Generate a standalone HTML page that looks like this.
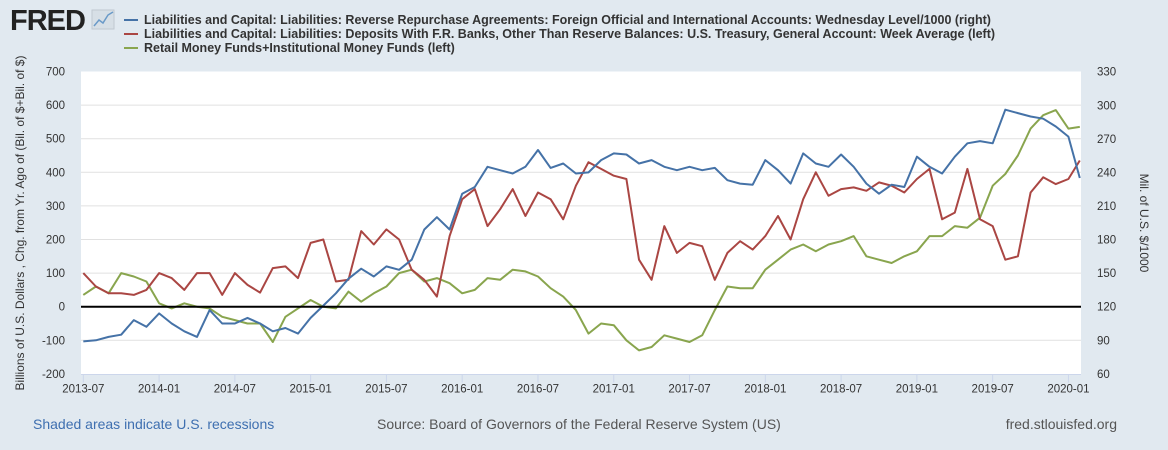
<!DOCTYPE html>
<html><head><meta charset="utf-8">
<style>
html,body{margin:0;padding:0;}
body{width:1168px;height:450px;background:#e1e9f0;font-family:"Liberation Sans",sans-serif;overflow:hidden;position:relative;}
svg{position:absolute;left:0;top:0;}
</style></head>
<body>
<svg id="chart" width="1168" height="450"></svg>
<script>
const redMonths=[0,1,2,3,4,5,6,7,8,9,10,11,12,13,14,15,16,17,18,19,20,21,22,23,24,25,26,27,28,29,30,31,32,33,34,35,36,37,38,39,40,41,42,43,44,45,46,47,48,49,50,51,52,53,54,55,56,57,58,59,60,61,62,63,64,65,66,67,68,69,70,71,72,73,74,75,76,77,78,78.9];
const redValues=[100,60,40,40,35,50,100,85,50,100,100,35,100,65,42,115,120,85,190,200,75,80,225,185,230,200,110,80,30,210,320,350,240,290,350,270,340,320,260,360,430,410,390,380,140,80,240,160,190,180,80,160,195,170,210,270,200,320,400,330,350,355,345,370,360,340,380,410,260,280,410,260,240,140,150,340,385,365,380,435];
const greenValues=[35,60,40,100,90,75,10,-5,10,0,-5,-30,-40,-50,-50,-105,-30,-5,20,0,-5,45,15,40,60,100,110,75,85,70,40,50,85,80,110,105,90,55,30,-10,-80,-50,-55,-100,-130,-120,-85,-95,-105,-85,-10,60,55,55,110,140,170,185,165,185,195,210,150,140,130,150,165,210,210,240,235,265,360,395,450,530,570,585,530,535];
const blueValues=[89,90,93,95,108,102,114,105,98,93,117,105,105,110,105,98,101,96,110,121,132,145,154,147,156,153,162,189,200,189,221,227,245,242,239,245,260,244,248,239,240,251,257,256,248,251,245,242,245,242,244,233,230,229,251,242,230,257,248,245,256,245,230,221,229,227,254,245,239,254,266,268,266,296,293,290,288,281,272,235];
const leftTicks=[-200,-100,0,100,200,300,400,500,600,700];
const rightTicks=[60,90,120,150,180,210,240,270,300,330];
const xTickLabels=["2013-07","2014-01","2014-07","2015-01","2015-07","2016-01","2016-07","2017-01","2017-07","2018-01","2018-07","2019-01","2019-07","2020-01"];
const xTickMonths=[0,6,12,18,24,30,36,42,48,54,60,66,72,78];

const NS="http://www.w3.org/2000/svg";
const svg=document.getElementById('chart');
const PL=81,PR=1081,PT=71.5,PB=374.5;
const xs=m=>83.3+m*12.63;
const yl=v=>306.7-v*0.336;
const yr=v=>306.7-(v-120)/0.8936;
function mk(tag,attrs,parent){const e=document.createElementNS(NS,tag);for(const k in attrs)e.setAttribute(k,attrs[k]);(parent||svg).appendChild(e);return e;}

const plot=mk('rect',{x:PL,y:PT,width:PR-PL,height:PB-PT,fill:'#fff'});



leftTicks.forEach((v,i)=>{
  const y=yl(v);
  if(v!==-200&&v!==700){const g=mk('line',{x1:PL,x2:PR,y1:y,y2:y,stroke:'#e1e1e1','stroke-width':1});
  
  }
  const t=mk('text',{x:PL-16,y:y+4,'text-anchor':'end','font-size':11.5,fill:'#333'});t.textContent=v;
  
  
});
rightTicks.forEach(v=>{
  const t=mk('text',{x:PR+16,y:yr(v)+4,'text-anchor':'start','font-size':11.5,fill:'#333'});t.textContent=v;
  
  
});
xTickMonths.forEach((m,i)=>{
  const x=xs(m);
  const tk=mk('line',{x1:x,x2:x,y1:PB,y2:PB+8,stroke:'#ccd6eb'});
  
  
  const t=mk('text',{x:x,y:PB+18,'text-anchor':'middle','font-size':11.5,fill:'#333'});t.textContent=xTickLabels[i];
  
  
});
const ax=mk('line',{x1:PL,x2:PR,y1:PB,y2:PB,stroke:'#ccd6eb'});



function series(vals,months,yf,color,name){
  const d=vals.map((v,i)=>(i?'L':'M')+xs(months[i]).toFixed(1)+','+yf(v).toFixed(1)).join(' ');
  const p=mk('path',{d:d,fill:'none',stroke:color,'stroke-width':2,'stroke-linejoin':'round'});
  
  
}
series(greenValues,redMonths,yl,'#89a54e','series-money-funds');
series(redValues,redMonths,yl,'#aa4643','series-treasury-account');
series(blueValues,redMonths,yr,'#4572a7','series-reverse-repo');
const zl=mk('line',{x1:PL,x2:PR,y1:yl(0),y2:yl(0),stroke:'#000','stroke-width':2});



const lt=mk('text',{transform:'translate(24,223) rotate(-90)','text-anchor':'middle','font-size':12,fill:'#333'});
lt.textContent='Billions of U.S. Dollars , Chg. from Yr. Ago of (Bil. of $+Bil. of $)';


const rt=mk('text',{transform:'translate(1140,223) rotate(90)','text-anchor':'middle','font-size':12,fill:'#333'});
rt.textContent='Mil. of U.S. $/1000';



// header
const logo=mk('text',{x:10,y:30,'font-size':29,'font-weight':'bold',fill:'#222','letter-spacing':'-1'});
logo.textContent='FRED';


const ic=mk('rect',{x:92,y:10,width:22,height:19,fill:'#d7dfe6',stroke:'#c0c8d0'});


const icl=mk('polyline',{points:'94,26 99,20 103,23 108,15 113,12',fill:'none',stroke:'#6a9ac8','stroke-width':1.5});


const legends=[['#4572a7','Liabilities and Capital: Liabilities: Reverse Repurchase Agreements: Foreign Official and International Accounts: Wednesday Level/1000 (right)'],
['#aa4643','Liabilities and Capital: Liabilities: Deposits With F.R. Banks, Other Than Reserve Balances: U.S. Treasury, General Account: Week Average (left)'],
['#89a54e','Retail Money Funds+Institutional Money Funds (left)']];
legends.forEach((l,i)=>{
  const y=20+i*14;
  const ln=mk('line',{x1:124,x2:138,y1:y,y2:y,stroke:l[0],'stroke-width':2});
  
  
  const t=mk('text',{x:144,y:y+4,'font-size':12.5,fill:'#333','font-weight':'bold'});t.textContent=l[1];
  
  
});
const f1=mk('text',{x:33,y:429,'font-size':14,fill:'#3e6fb0'});f1.textContent='Shaded areas indicate U.S. recessions';


const f2=mk('text',{x:377,y:429,'font-size':14,fill:'#555'});f2.textContent='Source: Board of Governors of the Federal Reserve System (US)';


const f3=mk('text',{x:1117,y:429,'font-size':14,fill:'#555','text-anchor':'end'});f3.textContent='fred.stlouisfed.org';


</script>
</body></html>
